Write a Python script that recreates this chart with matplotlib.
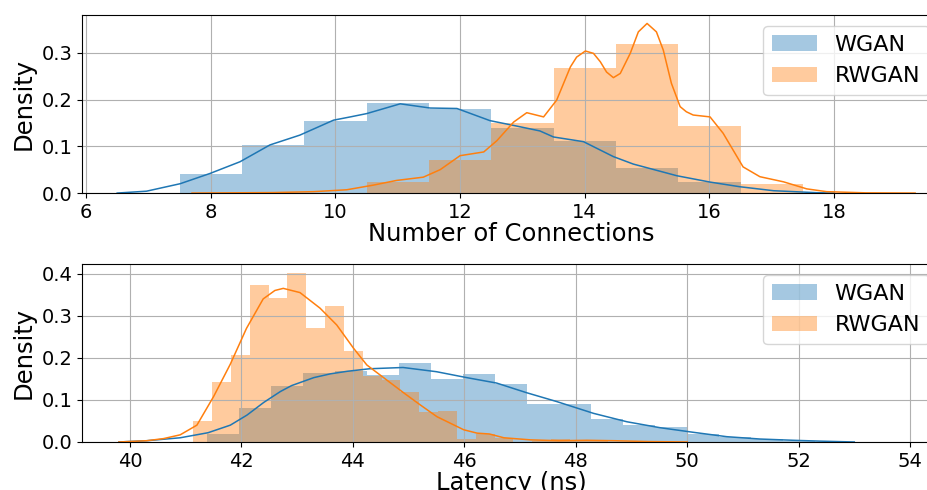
import numpy as np
import matplotlib
matplotlib.use("Agg")
import matplotlib.pyplot as plt

labels = ["WGAN", "RWGAN"]
colors = ["#1f77b4", "#ff7f0e"]

# --- top panel: number of connections (integer bins, width 1) ---
conn_wgan_edges = [7.5, 8.5, 9.5, 10.5, 11.5, 12.5, 13.5, 14.5, 15.5]
conn_wgan_dens = [0.040, 0.102, 0.154, 0.192, 0.180, 0.139, 0.111, 0.053, 0.024]
conn_rwgan_edges = [10.5, 11.5, 12.5, 13.5, 14.5, 15.5, 16.5]
conn_rwgan_dens = [0.024, 0.070, 0.149, 0.267, 0.320, 0.143, 0.019]
conn_bin_w = [1.0, 1.0]

conn_kde_wgan_x = [6.5, 6.97, 7.51, 7.99, 8.47, 8.95, 9.43, 9.97, 10.24, 10.50, 11.04,
                   11.52, 11.95, 12.48, 12.85, 13.28, 13.50, 13.98, 14.46, 14.78,
                   15.48, 16.01, 16.49, 17.03, 17.72, 18.0]
conn_kde_wgan_y = [0.0, 0.004, 0.020, 0.042, 0.067, 0.103, 0.124, 0.156, 0.163, 0.170, 0.191,
                   0.182, 0.181, 0.155, 0.145, 0.133, 0.120, 0.110, 0.078, 0.062,
                   0.037, 0.0235, 0.0135, 0.005, 0.0008, 0.0]
conn_kde_rwgan_x = [7.7, 9.0, 9.65, 10.18, 10.61, 10.98, 11.41, 11.68, 12.0, 12.38, 12.59,
                    12.86, 13.07, 13.34, 13.55, 13.77, 13.87, 14.01, 14.14, 14.25, 14.35,
                    14.46, 14.57, 14.73, 14.86, 15.0, 15.15, 15.26, 15.39, 15.53, 15.63,
                    15.74, 16.01, 16.22, 16.54, 16.81, 17.19, 17.56, 17.88, 18.5, 19.3]
conn_kde_rwgan_y = [0.0, 0.001, 0.003, 0.007, 0.017, 0.027, 0.034, 0.050, 0.080, 0.088, 0.112,
                    0.152, 0.172, 0.163, 0.199, 0.270, 0.291, 0.304, 0.299, 0.281, 0.259,
                    0.247, 0.256, 0.299, 0.345, 0.363, 0.345, 0.306, 0.235, 0.185, 0.174,
                    0.167, 0.163, 0.128, 0.056, 0.035, 0.024, 0.009, 0.003, 0.0005, 0.0]

# --- bottom panel: latency ---
lat_wgan_edges = [41.388, 41.962, 42.537, 43.111, 43.686, 44.260, 44.834, 45.409, 45.983,
                  46.558, 47.132, 47.706, 48.281, 48.855, 49.430, 50.004, 50.578, 51.153,
                  51.727]
lat_wgan_dens = [0.019, 0.081, 0.133, 0.163, 0.169, 0.158, 0.187, 0.150, 0.161,
                 0.138, 0.090, 0.090, 0.055, 0.040, 0.036, 0.020, 0.012, 0.006, 0.003]
lat_rwgan_edges = [41.136, 41.474, 41.812, 42.150, 42.488, 42.826, 43.164, 43.502, 43.840,
                   44.178, 44.516, 44.854, 45.192, 45.530, 45.868, 46.206, 46.544, 46.882,
                   47.220, 47.558, 47.896, 48.234]
lat_rwgan_dens = [0.050, 0.143, 0.207, 0.373, 0.342, 0.402, 0.271, 0.323, 0.216,
                  0.157, 0.147, 0.119, 0.072, 0.074, 0.008, 0.020, 0.009, 0.0,
                  0.003, 0.006, 0.003, 0.003]
lat_bin_w = [0.5744, 0.338]

lat_kde_wgan_x = [39.8, 40.3, 40.9, 41.4, 41.8, 42.1, 42.4, 42.7, 42.9, 43.3, 43.6, 43.9,
                  44.3, 44.9, 45.5, 46.04, 46.58, 47.12, 47.66, 48.32, 48.92, 49.51,
                  50.11, 50.71, 51.31, 51.91, 52.39, 53.0]
lat_kde_wgan_y = [0.0, 0.003, 0.010, 0.022, 0.040, 0.064, 0.094, 0.120, 0.134, 0.153, 0.162, 0.168,
                  0.174, 0.177, 0.167, 0.153, 0.140, 0.117, 0.096, 0.068, 0.048, 0.034,
                  0.023, 0.0126, 0.007, 0.004, 0.002, 0.0]
lat_kde_rwgan_x = [39.8, 40.3, 40.6, 40.9, 41.2, 41.5, 41.8, 42.09, 42.39, 42.6, 42.75, 43.05,
                   43.41, 43.71, 44.01, 44.25, 44.49, 44.91, 45.21, 45.51, 45.99, 46.23,
                   46.45, 46.71, 47.19, 47.7, 48.2, 48.7, 49.3, 50.0]
lat_kde_rwgan_y = [0.0, 0.003, 0.008, 0.017, 0.040, 0.108, 0.185, 0.270, 0.340, 0.360, 0.365, 0.355,
                   0.318, 0.278, 0.223, 0.183, 0.159, 0.117, 0.088, 0.060, 0.029, 0.021,
                   0.019, 0.010, 0.005, 0.003, 0.004, 0.003, 0.001, 0.0]

conn_xticks = [6, 8, 10, 12, 14, 16, 18]
conn_yticks = [0.0, 0.1, 0.2, 0.3]
lat_xticks = [40, 42, 44, 46, 48, 50, 52, 54]
lat_yticks = [0.0, 0.1, 0.2, 0.3, 0.4]

fig = plt.figure(figsize=(9.28, 4.9), dpi=100)
ax1 = fig.add_axes([0.0884, 0.606, 0.9246, 0.3633])
ax2 = fig.add_axes([0.0884, 0.098, 0.9246, 0.3633])

panels = [
    (ax1, [conn_wgan_edges, conn_rwgan_edges], [conn_wgan_dens, conn_rwgan_dens], conn_bin_w,
     [(conn_kde_wgan_x, conn_kde_wgan_y), (conn_kde_rwgan_x, conn_kde_rwgan_y)],
     (5.936, 19.70), (0, 0.381), conn_xticks, conn_yticks, "Number of Connections"),
    (ax2, [lat_wgan_edges, lat_rwgan_edges], [lat_wgan_dens, lat_rwgan_dens], lat_bin_w,
     [(lat_kde_wgan_x, lat_kde_wgan_y), (lat_kde_rwgan_x, lat_kde_rwgan_y)],
     (39.138, 54.54), (0, 0.423), lat_xticks, lat_yticks, "Latency (ns)"),
]

for ax, edges, dens, widths, kdes, xlim, ylim, xt, yt, xlabel in panels:
    for i in range(2):
        ax.bar(edges[i], dens[i], width=widths[i], align="edge", color=colors[i],
               alpha=0.4, linewidth=0, label=labels[i])
        ax.plot(kdes[i][0], kdes[i][1], color=colors[i], lw=1.1)
    ax.set_xlim(*xlim)
    ax.set_ylim(*ylim)
    ax.set_xticks(xt)
    ax.set_yticks(yt)
    ax.tick_params(labelsize=14)
    ax.grid(True)
    ax.set_xlabel(xlabel, fontsize=17.5, labelpad=0)
    ax.set_ylabel("Density", fontsize=17.5)
    ax.legend(loc="upper right", fontsize=16)

fig.savefig("out.png", dpi=100)
